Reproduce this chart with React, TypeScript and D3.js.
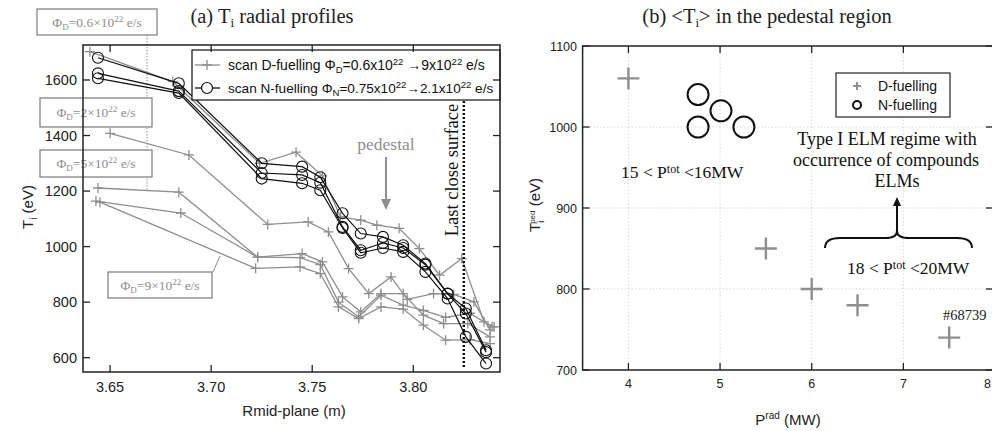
import React from "react";
import * as d3 from "d3";

// ---------- Left panel data: Ti radial profiles ----------
const nR = [3.644, 3.684, 3.725, 3.745, 3.754, 3.765, 3.774, 3.785, 3.795, 3.806, 3.817, 3.826, 3.836];
const nTi1 = [1680, 1588, 1300, 1288, 1250, 1120, 1047, 1035, 1005, 939, 831, 777, 627];
const nTi2 = [1624, 1560, 1265, 1258, 1230, 1071, 987, 1013, 995, 935, 830, 759, 620];
const nTi3 = [1606, 1553, 1245, 1228, 1203, 1067, 978, 995, 981, 909, 813, 675, 579];

const dR06 = [3.640, 3.681, 3.724, 3.742, 3.755, 3.764, 3.774, 3.782, 3.793, 3.803, 3.813, 3.824, 3.835, 3.840];
const dTi06 = [1702, 1594, 1300, 1340, 1255, 1107, 1095, 1077, 1066, 993, 897, 957, 729, 711];
const dR2 = [3.650, 3.689, 3.728, 3.748, 3.758, 3.768, 3.778, 3.789, 3.797, 3.810, 3.820, 3.830, 3.838];
const dTi2 = [1408, 1330, 1080, 1089, 1053, 921, 831, 891, 810, 831, 828, 801, 700];
const dR5 = [3.644, 3.684, 3.723, 3.745, 3.755, 3.765, 3.774, 3.784, 3.795, 3.805, 3.815, 3.827, 3.838];
const dTi5 = [1211, 1196, 962, 975, 945, 819, 765, 831, 831, 753, 723, 723, 675];
const dR7 = [3.643, 3.685, 3.723, 3.744, 3.754, 3.763, 3.773, 3.784, 3.795, 3.805, 3.816, 3.828, 3.839];
const dTi7 = [1164, 1121, 962, 960, 935, 800, 747, 825, 789, 770, 745, 760, 711];
const dR9 = [3.645, 3.722, 3.744, 3.754, 3.763, 3.773, 3.784, 3.795, 3.805, 3.816, 3.828, 3.838];
const dTi9 = [1160, 922, 927, 903, 783, 741, 783, 775, 717, 663, 665, 651];

const leftXTicks = [3.65, 3.7, 3.75, 3.8];
const leftYTicks = [600, 800, 1000, 1200, 1400, 1600];
const lcfsR = 3.825;

// ---------- Right panel data: <Ti> in pedestal ----------
const dPrad = [4.0, 5.5, 6.0, 6.5, 7.5];
const dTped = [1060, 850, 800, 780, 740];
const nPrad = [4.76, 4.76, 5.01, 5.26];
const nTped = [1040, 1000, 1020, 1000];
const rightXTicks = [4, 5, 6, 7, 8];
const rightYTicks = [700, 800, 900, 1000, 1100];

const SANS = "'Liberation Sans', Arial, sans-serif";
const SERIF = "'Liberation Serif', 'Times New Roman', serif";
const GRAY = "#8e8e8e";
const BOXGRAY = "#7a7a7a";

// scales
const xL = d3.scaleLinear().domain([3.6366, 3.8429]).range([83, 500]);
const yL = d3.scaleLinear().domain([548.5, 1726]).range([372, 45]);
const xR = d3.scaleLinear().domain([3.5, 8]).range([582.6, 995]);
const yR = d3.scaleLinear().domain([700, 1100]).range([370, 46]);

const lineL = d3.line<[number, number]>().x((d) => xL(d[0])).y((d) => yL(d[1]));
const zip = (a: number[], b: number[]) => a.map((v, i) => [v, b[i]] as [number, number]);

const Plus = ({ x, y, r, color, w }: { x: number; y: number; r: number; color: string; w: number }) => (
  <path d={`M${x - r},${y}H${x + r}M${x},${y - r}V${y + r}`} stroke={color} strokeWidth={w} fill="none" />
);

const PhiLabel = ({ x, y, val }: { x: number; y: number; val: string }) => (
  <text x={x} y={y} fontFamily={SERIF} fontSize={13.5} fill={GRAY} textAnchor="middle">
    Φ<tspan fontSize={9} dy={3}>D</tspan>
    <tspan dy={-3}>={val}×10</tspan>
    <tspan fontSize={9} dy={-5}>22</tspan>
    <tspan dy={5}> e/s</tspan>
  </text>
);

export default function App() {
  const dSeries = [zip(dR06, dTi06), zip(dR2, dTi2), zip(dR5, dTi5), zip(dR7, dTi7), zip(dR9, dTi9)];
  const nSeries = [zip(nR, nTi1), zip(nR, nTi2), zip(nR, nTi3)];
  const tk = 7;
  return (
    <svg width={992} height={431} style={{ position: "absolute", left: 0, top: 0, background: "#fff" }}>
      <rect x={0} y={0} width={992} height={431} fill="#fff" />
      {/* ================= LEFT PANEL ================= */}
      <text x={272} y={23} fontFamily={SERIF} fontSize={20.5} textAnchor="middle" fill="#222">
        (a) T<tspan fontSize={13} dy={4}>i</tspan>
        <tspan dy={-4}> radial profiles</tspan>
      </text>

      {/* connectors for annotation boxes */}
      <line x1={147} y1={35} x2={147} y2={190} stroke={GRAY} strokeWidth={1} strokeDasharray="1.5,1.5" />
      <line x1={213} y1={272} x2={220} y2={256} stroke={GRAY} strokeWidth={1} />

      {/* D-fuelling lines */}
      {dSeries.map((s, i) => (
        <path key={"dl" + i} d={lineL(s) || ""} fill="none" stroke={GRAY} strokeWidth={1.3} />
      ))}
      {dSeries.map((s, i) =>
        s.map((p, j) => <Plus key={`dp${i}-${j}`} x={xL(p[0])} y={yL(p[1])} r={5} color={GRAY} w={1.3} />)
      )}
      {/* N-fuelling lines */}
      {nSeries.map((s, i) => (
        <path key={"nl" + i} d={lineL(s) || ""} fill="none" stroke="#111" strokeWidth={1.2} />
      ))}
      {nSeries.map((s, i) =>
        s.map((p, j) => (
          <circle key={`np${i}-${j}`} cx={xL(p[0])} cy={yL(p[1])} r={5.5} fill="none" stroke="#111" strokeWidth={1.1} />
        ))
      )}

      {/* LCFS dotted line */}
      <line x1={xL(lcfsR)} y1={101} x2={xL(lcfsR)} y2={368} stroke="#111" strokeWidth={2.5} strokeDasharray="2,2" />
      <text
        transform={`translate(${xL(lcfsR) - 6},170) rotate(-90)`}
        fontFamily={SERIF}
        fontSize={18.5}
        textAnchor="middle"
        fill="#111"
      >
        Last close surface
      </text>

      {/* pedestal label + arrow */}
      <text x={386} y={150} fontFamily={SERIF} fontSize={17.5} textAnchor="middle" fill={GRAY}>
        pedestal
      </text>
      <line x1={386} y1={157} x2={386} y2={201} stroke={GRAY} strokeWidth={2} />
      <path d="M381,199 L391,199 L386,210 Z" fill={GRAY} />

      {/* annotation boxes */}
      <rect x={37} y={9} width={120} height={26} fill="#fff" stroke={BOXGRAY} strokeWidth={1.2} />
      <PhiLabel x={97} y={27} val="0.6" />
      <rect x={40} y={98} width={112} height={29} fill="#fff" stroke={BOXGRAY} strokeWidth={1.2} />
      <PhiLabel x={96} y={117} val="2" />
      <rect x={40} y={150} width={112} height={27} fill="#fff" stroke={BOXGRAY} strokeWidth={1.2} />
      <PhiLabel x={96} y={168} val="5" />
      <rect x={108} y={272} width={104} height={26} fill="#fff" stroke={BOXGRAY} strokeWidth={1.2} />
      <PhiLabel x={160} y={290} val="9" />

      {/* legend */}
      <rect x={192} y={50} width={308} height={50} fill="#fff" stroke="#111" strokeWidth={1.2} />
      <line x1={195} y1={65} x2={220} y2={65} stroke={GRAY} strokeWidth={1.3} />
      <Plus x={207} y={65} r={5} color={GRAY} w={1.3} />
      <text x={228} y={70} fontFamily={SANS} fontSize={14} fill="#111">
        scan D-fuelling Φ<tspan fontSize={9.5} dy={3}>D</tspan>
        <tspan dy={-3}>=0.6x10</tspan>
        <tspan fontSize={9.5} dy={-5}>22</tspan>
        <tspan dy={5}>{"  "}→9x10</tspan>
        <tspan fontSize={9.5} dy={-5}>22</tspan>
        <tspan dy={5}> e/s</tspan>
      </text>
      <line x1={195} y1={88} x2={220} y2={88} stroke="#111" strokeWidth={1.3} />
      <circle cx={207} cy={88} r={5.5} fill="#fff" stroke="#111" strokeWidth={1.2} />
      <text x={228} y={93} fontFamily={SANS} fontSize={13.6} fill="#111">
        scan N-fuelling Φ<tspan fontSize={9.5} dy={3}>N</tspan>
        <tspan dy={-3}>=0.75x10</tspan>
        <tspan fontSize={9.5} dy={-5}>22</tspan>
        <tspan dy={5}>→2.1x10</tspan>
        <tspan fontSize={9.5} dy={-5}>22</tspan>
        <tspan dy={5}> e/s</tspan>
      </text>

      {/* frame */}
      <rect x={83} y={45} width={417} height={327} fill="none" stroke="#222" strokeWidth={1.5} />
      {leftXTicks.map((t) => (
        <g key={"lx" + t}>
          <line x1={xL(t)} y1={372} x2={xL(t)} y2={372 - tk} stroke="#222" strokeWidth={1.3} />
          <line x1={xL(t)} y1={45} x2={xL(t)} y2={45 + tk} stroke="#222" strokeWidth={1.3} />
          <text x={xL(t)} y={392} fontFamily={SANS} fontSize={14.5} textAnchor="middle" fill="#222">
            {t.toFixed(2)}
          </text>
        </g>
      ))}
      {leftYTicks.map((t) => (
        <g key={"ly" + t}>
          <line x1={83} y1={yL(t)} x2={83 + tk} y2={yL(t)} stroke="#222" strokeWidth={1.3} />
          <line x1={500} y1={yL(t)} x2={500 - tk} y2={yL(t)} stroke="#222" strokeWidth={1.3} />
          <text x={77} y={yL(t) + 5} fontFamily={SANS} fontSize={14.5} textAnchor="end" fill="#222">
            {t}
          </text>
        </g>
      ))}
      <text x={294} y={416} fontFamily={SANS} fontSize={15} textAnchor="middle" fill="#222">
        Rmid-plane (m)
      </text>
      <text transform="translate(33,207) rotate(-90)" fontFamily={SANS} fontSize={15} textAnchor="middle" fill="#222">
        T<tspan fontSize={10} dy={4}>i</tspan>
        <tspan dy={-4}> (eV)</tspan>
      </text>

      {/* ================= RIGHT PANEL ================= */}
      <text x={767} y={23} fontFamily={SERIF} fontSize={20.5} textAnchor="middle" fill="#222">
        (b) &lt;T<tspan fontSize={13} dy={4}>i</tspan>
        <tspan dy={-4}>&gt; in the pedestal region</tspan>
      </text>

      {/* grid */}
      {rightXTicks.slice(0, 4).map((t) => (
        <line key={"gx" + t} x1={xR(t)} y1={46} x2={xR(t)} y2={370} stroke="#cfcfcf" strokeWidth={0.8} strokeDasharray="1.5,2" />
      ))}
      {rightYTicks.slice(1, 4).map((t) => (
        <line key={"gy" + t} x1={582.6} y1={yR(t)} x2={995} y2={yR(t)} stroke="#cfcfcf" strokeWidth={0.8} strokeDasharray="1.5,2" />
      ))}

      {/* data */}
      {dPrad.map((p, i) => (
        <Plus key={"rd" + i} x={xR(p)} y={yR(dTped[i])} r={11} color={GRAY} w={2.4} />
      ))}
      {nPrad.map((p, i) => (
        <circle key={"rn" + i} cx={xR(p)} cy={yR(nTped[i])} r={10.5} fill="none" stroke="#111" strokeWidth={2} />
      ))}

      {/* legend */}
      <rect x={836} y={73} width={114} height={44} fill="#fff" stroke="#222" strokeWidth={1.2} />
      <Plus x={857} y={86} r={4} color={GRAY} w={2} />
      <circle cx={857} cy={105} r={4} fill="none" stroke="#111" strokeWidth={2} />
      <text x={878} y={91} fontFamily={SANS} fontSize={14} fill="#111">D-fuelling</text>
      <text x={878} y={110} fontFamily={SANS} fontSize={14} fill="#111">N-fuelling</text>

      {/* annotations */}
      <text x={887} y={145} fontFamily={SERIF} fontSize={18} textAnchor="middle" fill="#111">Type I ELM regime with</text>
      <text x={886} y={166} fontFamily={SERIF} fontSize={18} textAnchor="middle" fill="#111">occurrence of compounds</text>
      <text x={897} y={187} fontFamily={SERIF} fontSize={18} textAnchor="middle" fill="#111">ELMs</text>
      <text x={621} y={178} fontFamily={SERIF} fontSize={17.5} fill="#111">
        15 &lt; P<tspan fontSize={12} dy={-5}>tot</tspan>
        <tspan dy={5}> &lt;16MW</tspan>
      </text>
      <text x={847} y={274} fontFamily={SERIF} fontSize={17.5} fill="#111">
        18 &lt; P<tspan fontSize={12} dy={-5}>tot</tspan>
        <tspan dy={5}>{"  "}&lt;20MW</tspan>
      </text>
      <text x={943} y={320} fontFamily={SERIF} fontSize={14.5} fill="#222">#68739</text>

      {/* brace + arrow */}
      <path
        d="M825,248 Q825,238 840,238 L885,238 Q897,238 897,231 Q897,238 909,238 L957,238 Q972,238 972,248"
        fill="none"
        stroke="#111"
        strokeWidth={2}
      />
      <line x1={897} y1={231} x2={897} y2={205} stroke="#111" strokeWidth={2} />
      <path d="M893,206 L901,206 L897,197 Z" fill="#111" />

      {/* frame */}
      <rect x={582.6} y={46} width={412.4} height={324} fill="none" stroke="#222" strokeWidth={1.5} />
      {rightXTicks.map((t) => (
        <g key={"rx" + t}>
          <line x1={xR(t)} y1={370} x2={xR(t)} y2={370 - tk} stroke="#222" strokeWidth={1.3} />
          <line x1={xR(t)} y1={46} x2={xR(t)} y2={46 + tk} stroke="#222" strokeWidth={1.3} />
          <text
            x={t === 8 ? 991 : xR(t)}
            y={388}
            fontFamily={SANS}
            fontSize={12.5}
            textAnchor={t === 8 ? "end" : "middle"}
            fill="#222"
          >
            {t}
          </text>
        </g>
      ))}
      {rightYTicks.map((t) => (
        <g key={"ry" + t}>
          <line x1={582.6} y1={yR(t)} x2={582.6 + tk} y2={yR(t)} stroke="#222" strokeWidth={1.3} />
          <line x1={993} y1={yR(t)} x2={993 - tk} y2={yR(t)} stroke="#222" strokeWidth={1.3} />
          <text x={577} y={yR(t) + 4.5} fontFamily={SANS} fontSize={12.5} textAnchor="end" fill="#222">
            {t}
          </text>
        </g>
      ))}
      <text x={788} y={425} fontFamily={SANS} fontSize={15} textAnchor="middle" fill="#222">
        P<tspan fontSize={10} dy={-6}>rad</tspan>
        <tspan dy={6}>{"  "}(MW)</tspan>
      </text>
      <text transform="translate(540,205) rotate(-90)" fontFamily={SANS} fontSize={15} textAnchor="middle" fill="#222">
        T<tspan fontSize={9} dy={4}>i</tspan>
        <tspan fontSize={8} dx={-3} dy={-9}>ped</tspan>
        <tspan fontSize={15} dy={5}> (eV)</tspan>
      </text>
    </svg>
  );
}
